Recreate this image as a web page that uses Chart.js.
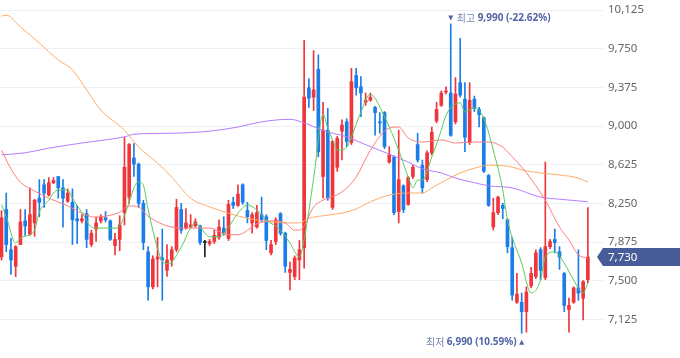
<!DOCTYPE html>
<html><head><meta charset="utf-8">
<script src="https://cdn.jsdelivr.net/npm/chart.js@4"></script>
<style>html,body{margin:0;padding:0;background:#fff;overflow:hidden}canvas{display:block}</style>
</head><body>
<canvas id="c" width="680" height="358"></canvas>
<script>
const openP = [7730,8190,7800,7640,7850,8080,7950,8060,8300,8430, 8330,8450,8510,8400,8270,8260,8100,8080,8150,7850, 8000,8080,8110,8080,7840,7900,8160,8310,8690,8630, 8250,7780,7440,7710,7720,7600,7700,7800,8190,8010, 8020,8030,8030,7870,7860,7880,7920,8010,7910,8260, 8230,8430,8180,8060,8020,8140,8120,7770,7880,8150, 7960,7580,7540,7700,7820,9370,9280,9550,8510,8960, 8210,8600,8950,9040,8840,9490,9380,9230,9250,9180, 9040,9130,8650,8700,8170,8420,8240,8510,8820,8620, 8480,8740,9050,9200,9330,9320,9040,9420,9260,8840, 9260,9160,9080,8520,8020,8160,8230,8090,7820,7290, 7290,7200,7450,7540,7800,7530,7830,7900,7780,7570, 7220,7290,7430,7330,7510];
const highP = [8180,8350,7910,7840,8190,8190,8400,8290,8480,8480, 8500,8500,8510,8480,8390,8390,8230,8140,8190,7990, 8120,8140,8170,8090,7960,8130,8890,8830,8830,8640, 8280,7830,7740,7920,8000,7850,7830,8290,8250,8200, 8140,8100,8040,7890,7900,7990,8090,8120,8280,8310, 8430,8440,8260,8160,8230,8310,8140,7890,8110,8160, 7970,7680,7740,7890,9830,9460,9730,9690,9230,9170, 8860,8900,9060,9070,9560,9560,9480,9320,9320,9190, 9130,9140,8800,8710,8960,8430,8510,8620,8930,8670, 8760,8990,9230,9340,9380,9990,9470,9850,9420,9420, 9290,9180,9090,8530,8300,8320,8250,8100,7920,7570, 7380,7440,7630,7800,7820,8650,7900,8000,7830,7580, 7330,7440,7800,7500,8210];
const lowP = [7700,7780,7560,7540,7850,7940,7940,7930,8120,8210, 8320,8440,8300,8020,8260,7850,7860,8060,7820,7830, 7880,8060,8070,7890,7750,7790,8040,8250,8510,8210, 7800,7310,7420,7440,7310,7540,7640,7780,7960,8000, 8010,8020,7850,7730,7840,7860,7900,7940,7890,8200, 8220,8240,8060,7960,8010,8070,7800,7750,7850,7940, 7580,7410,7510,7510,7620,9180,9150,8700,8300,8280, 8190,8560,8670,8800,8820,9300,9090,9200,9240,8910, 8930,8780,8640,8140,8060,8160,8230,8490,8650,8350, 8460,8720,9030,9190,9310,8900,9020,9280,8750,8820, 9140,8990,8550,8220,7990,8140,8100,7770,7310,7280, 6990,7000,7430,7520,7510,7510,7810,7770,7610,7200, 7000,7280,7310,7120,7480];
const closeP = [8110,7850,7700,7830,8070,8030,8140,8280,8260,8350, 8450,8470,8400,8300,8350,8090,8080,8100,7900,7960, 8060,8120,8090,7900,7900,8040,8600,8820,8630,8250, 7870,7440,7710,7730,7700,7700,7800,8210,7990,8060, 8040,8070,7870,7870,7880,7940,8020,7960,8240,8230, 8340,8260,8120,8140,8160,8090,7890,7850,8090,7960, 7640,7610,7720,7800,9280,9270,9350,8750,8960,8300, 8850,8880,9010,8850,9430,9370,9320,9250,9280,9130, 9030,8800,8720,8160,8480,8190,8500,8600,8670,8400, 8740,8940,9160,9320,9340,8910,9310,9300,8890,9250, 9170,9110,8560,8230,8160,8310,8200,7830,7360,7370, 7200,7390,7570,7770,7600,7830,7880,7870,7730,7260, 7260,7430,7380,7490,7730];

// moving averages: [day index, value]
const ma5 = [[0,8235],[1,8120],[3,7865],[4,7915],[6,7945],[7,7990],[8,8165],[10,8280],[11,8350],[12,8380],[14,8380],[15,8300],[17,8160],[19,8020],[20,8010],[24,8010],[25,8030],[26,8130],[27,8260],[28,8400],[29,8460],[30,8425],[31,8190],[32,7990],[33,7810],[34,7690],[35,7665],[36,7680],[38,7825],[41,8060],[42,8020],[44,7925],[46,7925],[48,8020],[50,8155],[52,8235],[54,8185],[56,8090],[59,7990],[61,7865],[63,7730],[64,7900],[66,8490],[68,9110],[69,8980],[70,8865],[71,8765],[73,8795],[74,8895],[76,9135],[78,9310],[79,9270],[80,9185],[82,8990],[84,8765],[86,8505],[87,8400],[88,8475],[89,8475],[91,8700],[93,8960],[94,9105],[97,9225],[98,9135],[100,9175],[102,9075],[104,8765],[106,8380],[107,8090],[110,7670],[112,7380],[114,7505],[115,7730],[117,7780],[119,7670],[121,7505],[123,7380],[124,7475]];
const ma20 = [[0,8765],[2,8585],[4,8455],[7,8370],[10,8300],[14,8225],[17,8155],[20,8115],[23,8135],[25,8165],[27,8225],[29,8215],[31,8125],[36,8020],[39,8010],[44,8010],[48,7945],[50,7945],[54,8050],[57,8080],[60,8060],[62,7990],[63,7990],[64,8030],[66,8215],[68,8280],[72,8360],[75,8505],[78,8765],[82,8980],[84,8990],[86,8885],[89,8845],[93,8865],[96,8835],[100,8845],[103,8845],[106,8795],[107,8750],[111,8545],[115,8280],[118,8020],[120,7895],[122,7750],[124,7720]];
const ma60 = [[0,10065],[1,10075],[4,9960],[8,9805],[12,9640],[15,9545],[18,9350],[21,9155],[26,8960],[29,8795],[33,8640],[36,8505],[40,8300],[44,8215],[48,8155],[52,8105],[57,8070],[61,8060],[63,8060],[65,8105],[69,8135],[72,8155],[75,8195],[78,8265],[82,8330],[86,8350],[89,8350],[91,8400],[94,8475],[97,8545],[100,8590],[103,8620],[107,8610],[111,8565],[114,8545],[118,8525],[122,8495],[124,8455]];
const ma120 = [[0,8720],[5,8740],[10,8785],[17,8835],[26,8895],[28,8920],[36,8930],[44,8950],[50,8990],[55,9040],[61,9065],[64,9030],[69,8940],[72,8910],[78,8800],[86,8650],[89,8585],[93,8545],[96,8495],[100,8450],[103,8420],[108,8400],[114,8310],[118,8290],[124,8265]];

const yTicks = [7125,7500,7875,8250,8625,9000,9375,9750,10125];
const hiLabel = '최고', loLabel = '최저';

const lastPrice = closeP[closeP.length - 1];
const UP = '#f0353b', DOWN = '#1b7de8', FLAT = '#222222';
const colorOf = i => closeP[i] > openP[i] ? UP : (closeP[i] < openP[i] ? DOWN : FLAT);
const idx = closeP.map((_, i) => i);
const wickData = idx.map(i => ({x: i, y: [lowP[i], highP[i]]}));
const bodyData = idx.map(i => ({x: i, y: [Math.min(openP[i], closeP[i]), Math.max(openP[i], closeP[i])]}));
const pts = a => a.map(([x, y]) => ({x, y}));
const fmt = v => Number(v).toLocaleString('en-US');

const lineDs = (arr, color) => ({type: 'line', data: pts(arr), borderColor: color, borderWidth: 1, pointRadius: 0, cubicInterpolationMode: 'monotone', fill: false, order: 1});

const markers = {
  id: 'markers',
  afterDraw(chart) {
    const {ctx, scales: {x, y}, chartArea} = chart;
    const hiIdx = highP.indexOf(Math.max(...highP));
    const loIdx = lowP.indexOf(Math.min(...lowP));
    const hi = highP[hiIdx], lo = lowP[loIdx];
    const pct = v => ((lastPrice / v - 1) * 100).toFixed(2);
    const KF = '10px "Noto Sans CJK KR"', NF = 'bold 10px "Noto Sans", "Noto Sans CJK KR"';
    const KC = '#7884b4', NC = '#5165a6';
    ctx.save();
    ctx.textBaseline = 'middle';
    // high
    let px = x.getPixelForValue(hiIdx), py = y.getPixelForValue(hi) - 6;
    ctx.fillStyle = NC;
    ctx.beginPath(); ctx.moveTo(px - 2.5, py - 2.5); ctx.lineTo(px + 2.5, py - 2.5); ctx.lineTo(px, py + 2.5); ctx.closePath(); ctx.fill();
    ctx.textAlign = 'left';
    ctx.font = KF; ctx.fillStyle = KC; ctx.fillText(hiLabel, px + 6, py);
    let wk = ctx.measureText(hiLabel).width;
    ctx.font = NF; ctx.fillStyle = NC; ctx.fillText(`${fmt(hi)} (${pct(hi)}%)`, px + 6 + wk + 2.5, py);
    // low
    px = x.getPixelForValue(loIdx); py = y.getPixelForValue(lo) + 9;
    ctx.fillStyle = NC;
    ctx.beginPath(); ctx.moveTo(px - 2.5, py + 2.5); ctx.lineTo(px + 2.5, py + 2.5); ctx.lineTo(px, py - 2.5); ctx.closePath(); ctx.fill();
    ctx.textAlign = 'right';
    ctx.font = NF; ctx.fillStyle = NC;
    const ntext = `${fmt(lo)} (${pct(lo)}%)`;
    ctx.fillText(ntext, px - 5, py);
    const wn = ctx.measureText(ntext).width;
    ctx.font = KF; ctx.fillStyle = KC; ctx.fillText(loLabel, px - 5 - wn - 2.5, py);
    // current price tag
    const ty = y.getPixelForValue(lastPrice);
    const xa = chartArea.right;
    ctx.fillStyle = '#485c99';
    ctx.beginPath();
    ctx.moveTo(xa - 6, ty); ctx.lineTo(xa, ty - 9); ctx.lineTo(chart.width, ty - 9); ctx.lineTo(chart.width, ty + 9); ctx.lineTo(xa, ty + 9); ctx.closePath(); ctx.fill();
    ctx.fillStyle = '#ffffff'; ctx.textAlign = 'left';
    ctx.font = '11.5px "Noto Sans"';
    ctx.fillText(fmt(lastPrice), xa + 5, ty + 0.5);
    ctx.restore();
  }
};

new Chart(document.getElementById('c'), {
  type: 'bar',
  data: {datasets: [
    lineDs(ma5, '#5cc95c'),
    lineDs(ma20, '#ff7d7d'),
    lineDs(ma60, '#ffab66'),
    lineDs(ma120, '#b57cff'),
    {type: 'bar', data: bodyData, backgroundColor: c => colorOf(c.dataIndex), barThickness: 3, minBarLength: 1, grouped: false, borderWidth: 0, order: 4},
    {type: 'bar', data: wickData, backgroundColor: c => colorOf(c.dataIndex), barThickness: 1, grouped: false, borderWidth: 0, order: 5}
  ]},
  options: {
    responsive: false, animation: false, devicePixelRatio: 1,
    layout: {padding: 0},
    plugins: {legend: {display: false}, tooltip: {enabled: false}},
    scales: {
      x: {type: 'linear', display: false, min: -0.32, max: 127.2, offset: false},
      y: {
        position: 'right', min: 6750, max: 10222,
        grid: {color: '#eef0f5', drawTicks: false},
        border: {display: false},
        ticks: {padding: 5, color: '#666666', font: {family: 'Noto Sans', size: 11.5}, callback: v => fmt(v)},
        afterBuildTicks: s => { s.ticks = yTicks.map(v => ({value: v})); },
        afterFit: s => { s.width = 77; s.paddingTop = 0; s.paddingBottom = 0; }
      }
    }
  },
  plugins: [markers]
});
</script>
</body></html>
